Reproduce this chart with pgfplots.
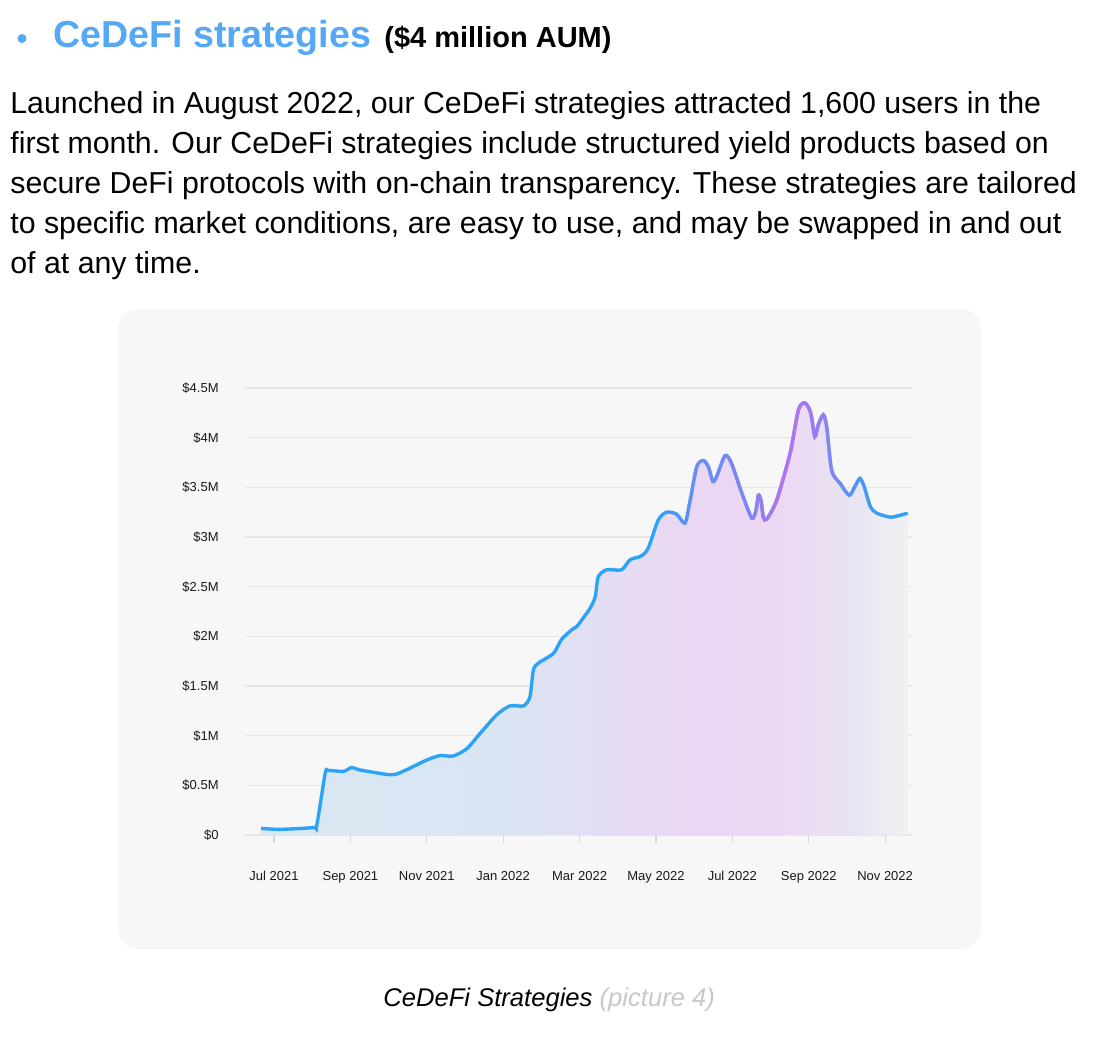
\documentclass[border=0pt]{standalone}
\usepackage{pgfplots}
\pgfplotsset{compat=1.18}
\usepackage{pgfplotstable}
\usepackage{fontspec}
\setmainfont{Liberation Sans}
\usetikzlibrary{fadings}

\definecolor{headblue}{HTML}{55A8F6}
\definecolor{lineblue}{HTML}{2DA3F5}
\definecolor{linepurple}{HTML}{BC70F2}
\definecolor{cardgray}{HTML}{F7F7F7}
\definecolor{gridgray}{HTML}{E6E6E6}
\definecolor{tickgray}{HTML}{D6D6D6}
\definecolor{captiongray}{HTML}{C8C8C8}
\definecolor{fA}{HTML}{D8E8F3}
\definecolor{fB}{HTML}{DAE5F3}
\definecolor{fC}{HTML}{E3DDF3}
\definecolor{fD}{HTML}{EBD7F3}
\definecolor{fE}{HTML}{ECD8F3}
\definecolor{fF}{HTML}{E8E3F2}
\definecolor{fG}{HTML}{F0F1F3}

% shadings are fitted so that 25bp..75bp spans the path
\pgfdeclarehorizontalshading{aumfill}{100bp}{color(0bp)=(fA); color(25bp)=(fA); color(43.5bp)=(fB); color(51bp)=(fC); color(59bp)=(fD); color(65bp)=(fE); color(70.5bp)=(fF); color(75bp)=(fG); color(100bp)=(fG)}
% purple tint of the line around Sep 2022 (white = opaque)
\pgfdeclarehorizontalshading{purpleshade}{100bp}{color(0bp)=(black); color(25bp)=(black); color(32.5bp)=(white!40!black); color(45bp)=(white!60!black); color(51.5bp)=(white); color(57.5bp)=(white!85!black); color(62.5bp)=(white!55!black); color(69bp)=(white!15!black); color(75bp)=(black); color(100bp)=(black)}
\pgfdeclarefading{purplefade}{\pgfuseshading{purpleshade}}

% months since Jul 2021, AUM in $M
\pgfplotstableread{
m aum
-0.34 0.067
0.16 0.057
1.03 0.075
1.12 0.10
1.34 0.62
1.42 0.65
1.82 0.64
2.03 0.68
2.25 0.655
2.95 0.61
3.21 0.614
3.65 0.69
4.00 0.755
4.35 0.80
4.69 0.795
5.05 0.87
5.39 1.02
5.83 1.21
6.18 1.30
6.53 1.30
6.70 1.39
6.79 1.66
6.92 1.73
7.32 1.83
7.53 1.97
7.84 2.08
7.93 2.10
8.27 2.28
8.41 2.40
8.49 2.60
8.71 2.67
9.10 2.67
9.32 2.77
9.62 2.81
9.80 2.89
10.06 3.17
10.28 3.25
10.54 3.23
10.76 3.14
10.89 3.36
11.07 3.71
11.24 3.77
11.37 3.71
11.49 3.56
11.59 3.61
11.81 3.82
11.98 3.74
12.25 3.44
12.51 3.19
12.62 3.27
12.68 3.42
12.75 3.37
12.81 3.20
12.90 3.18
13.16 3.37
13.51 3.84
13.73 4.28
13.90 4.35
14.05 4.25
14.16 4.01
14.25 4.13
14.38 4.23
14.47 4.11
14.60 3.67
14.82 3.54
15.06 3.42
15.21 3.51
15.34 3.59
15.45 3.51
15.61 3.31
15.78 3.24
16.13 3.20
16.30 3.21
16.59 3.24
}\aumdata

\begin{document}
\begin{tikzpicture}[x=0.5pt,y=-0.5pt]
\path[use as bounding box, fill=white] (0,0) rectangle (1094,1044);

% heading
\fill[headblue] (22,38.5) circle (4.5);
\node[anchor=base west, inner sep=0pt, text=headblue] at (53,47)
  {\fontsize{18.8}{22}\selectfont\bfseries CeDeFi strategies};
\node[anchor=base west, inner sep=0pt] at (384,47)
  {\fontsize{14.5}{17}\selectfont\bfseries (\$4 million AUM)};

% paragraph
\begin{scope}[every node/.style={anchor=base west, inner sep=0pt, font=\fontsize{15.15}{20}\selectfont}]
\node at (10,113) {Launched in August 2022, our CeDeFi strategies attracted 1,600 users in the};
\node at (10,153) {first month. Our CeDeFi strategies include structured yield products based on};
\node at (10,193) {secure DeFi protocols with on-chain transparency. These strategies are tailored};
\node at (10,233) {to specific market conditions, are easy to use, and may be swapped in and out};
\node at (10,273) {of at any time.};
\end{scope}

% card
\fill[cardgray, rounded corners=10pt] (118,309) rectangle (981,949);

\begin{axis}[
    at={(122.5pt,-417.5pt)}, anchor=south west,
    scale only axis,
    width=334pt, height=223.5pt,
    xmin=-0.76, xmax=16.73,
    ymin=0, ymax=4.5,
    clip=false,
    axis line style={draw=none},
    xtick pos=bottom, ytick pos=left,
    tick align=outside,
    major tick length=4pt,
    xtick={0,2,4,6,8,10,12,14,16},
    xticklabels={Jul 2021,Sep 2021,Nov 2021,Jan 2022,Mar 2022,May 2022,Jul 2022,Sep 2022,Nov 2022},
    ytick={0,0.5,1,1.5,2,2.5,3,3.5,4,4.5},
    yticklabels={\$0,\$0.5M,\$1M,\$1.5M,\$2M,\$2.5M,\$3M,\$3.5M,\$4M,\$4.5M},
    xtick style={tickgray, line width=0.6pt},
    ytick style={draw=none},
    ymajorgrids,
    major grid style={gridgray, line width=0.7pt},
    tick label style={font=\fontsize{6.5}{8}\selectfont, text=black!90},
    yticklabel style={anchor=east, inner sep=0pt, xshift=-9pt},
    xticklabel style={anchor=north, inner sep=0pt, yshift=-14pt},
]
\addplot[draw=none, shade, shading=aumfill, smooth, tension=0.45] table {\aumdata} \closedcycle;
\addplot[lineblue, line width=1.7pt, smooth, tension=0.45] table {\aumdata};
\addplot[linepurple, line width=1.7pt, smooth, tension=0.45,
  restrict x to domain=10:16.2, path fading=purplefade, fit fading=true] table {\aumdata};
\end{axis}

% caption
\node[anchor=base west, inner sep=0pt] at (383,1006)
  {\fontsize{12.8}{15}\selectfont\itshape CeDeFi Strategies \textcolor{captiongray}{(picture 4)}};
\end{tikzpicture}
\end{document}
